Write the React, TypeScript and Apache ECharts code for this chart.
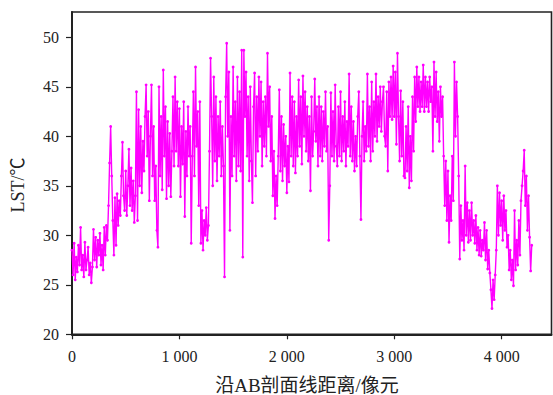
import React, { useEffect, useRef } from "react";
import * as echarts from "echarts";

// LST sampled along the AB profile, one value every DISTANCE_STEP pixels
const DISTANCE_STEP = 10;
const lstValues: number[] = [
  28.5, 26.0, 29.2, 25.5, 27.8, 26.3, 29.0, 27.0, 30.8, 26.5,
  28.0, 25.8, 29.3, 26.5, 27.5, 28.8, 26.0, 27.2, 25.2, 26.8,
  30.6, 27.5, 29.8, 26.8, 29.5, 28.0, 30.2, 27.0, 29.0, 26.5,
  30.8, 28.0, 31.0, 29.5, 33.0, 37.3, 41.0, 36.0, 31.5, 28.0,
  33.8, 29.0, 34.2, 31.0, 33.5, 32.0, 36.0, 39.4, 34.0, 32.5,
  36.5, 32.0, 35.0, 38.7, 33.0, 36.8, 32.5, 35.5, 31.3, 34.0,
  44.5, 31.5, 42.7, 35.0, 41.0, 34.3, 39.5, 36.5, 42.0, 45.2,
  38.0, 42.5, 33.5, 40.0, 45.2, 36.0, 41.0, 33.5, 37.0, 30.5,
  28.8, 45.0, 36.0, 42.0, 34.6, 46.7, 38.0, 43.0, 33.7, 41.5,
  35.0, 40.3, 33.9, 38.5, 44.0, 37.0, 46.0, 38.5, 43.5, 37.0,
  42.8, 33.9, 41.0, 37.2, 43.5, 31.9, 40.5, 36.0, 43.0, 38.0,
  41.0, 29.2, 38.0, 44.5, 36.0, 47.0, 39.0, 42.5, 33.0, 43.5,
  29.2, 32.5, 28.5, 31.5, 30.0, 32.8, 29.5, 31.0, 38.5, 47.9,
  42.0, 35.0, 46.0, 37.5, 44.0, 35.5, 42.0, 38.0, 43.5, 36.0,
  41.0, 37.0, 25.8, 44.0, 49.4, 40.0, 46.5, 30.5, 42.0, 36.0,
  47.0, 38.0, 43.5, 35.5, 46.0, 37.0, 44.5, 36.5, 48.7, 27.8,
  48.7, 42.0, 46.5, 38.0, 44.0, 35.5, 45.0, 37.5, 33.3, 43.0,
  46.4, 36.0, 44.0, 38.5, 46.0, 40.0, 45.5, 37.0, 43.5, 39.0,
  44.0, 38.0, 48.4, 41.0, 45.0, 37.5, 42.0, 34.0, 38.5, 31.7,
  36.0, 33.0, 38.0, 44.7, 36.5, 42.0, 35.5, 41.2, 37.0, 40.0,
  34.3, 39.0, 35.4, 46.4, 38.0, 44.0, 37.0, 43.5, 36.3, 42.0,
  38.0, 45.7, 39.0, 44.0, 37.2, 46.1, 40.0, 44.5, 38.5, 43.0,
  37.5, 42.0, 34.5, 44.0, 38.0, 40.5, 45.8, 39.5, 43.0, 37.0,
  44.0, 38.0, 43.0, 37.5, 42.5, 39.0, 44.5, 38.5, 41.0, 29.5,
  35.0, 44.4, 38.0, 42.5, 37.5, 45.2, 39.0, 37.0, 43.0, 38.0,
  44.5, 37.5, 42.0, 38.5, 43.5, 37.0, 41.5, 39.0, 46.3, 38.0,
  43.0, 37.5, 41.5, 36.5, 40.0, 37.0, 42.0, 44.5, 38.0, 31.6,
  40.0, 43.5, 37.5, 41.0, 38.5, 46.3, 39.0, 43.0, 37.5, 45.5,
  38.5, 43.5, 40.0, 46.3, 39.5, 44.0, 41.0, 45.0, 40.5, 43.5,
  45.0, 40.0, 39.0, 44.5, 36.5, 45.5, 42.0, 46.0, 41.7, 47.1,
  42.0, 46.5, 39.2, 48.4, 42.0, 37.5, 44.6, 38.0, 43.5, 36.0,
  35.8, 41.0, 36.5, 43.0, 34.8, 40.0, 35.5, 44.0, 38.5, 46.0,
  41.5, 47.0, 43.0, 46.0, 42.5, 45.5, 43.0, 47.2, 42.5, 46.0,
  43.0, 45.5, 42.5, 46.0, 43.5, 45.0, 38.5, 47.5, 42.0, 46.5,
  41.5, 44.5, 39.5, 45.0, 42.0, 44.0, 38.0, 33.0, 37.5, 31.5,
  36.5, 29.3, 34.0, 31.5, 38.0, 33.5, 47.5, 40.0, 45.5, 42.0,
  36.0, 27.6, 33.0, 29.5, 31.5, 28.5, 37.0, 30.0, 33.3, 29.3,
  32.5, 29.5, 33.3, 30.0, 31.5, 29.2, 32.0, 28.5, 30.8, 28.0,
  30.5, 27.9, 29.5, 28.5, 31.3, 27.5, 30.5, 26.6, 28.5, 26.2,
  24.5, 22.6, 25.5, 23.5, 26.0, 28.5, 35.0, 30.0, 34.3, 31.0,
  33.5, 29.5, 34.0, 30.5, 32.5, 28.8, 30.0, 26.5, 28.5, 25.5,
  27.5, 24.9, 32.5, 26.5, 29.5, 27.0, 31.5, 28.0, 33.5, 35.0,
  36.5, 38.6, 33.0, 36.0, 30.5, 34.0, 29.8, 26.4, 29.0,
];

const yTickValues = [20, 25, 30, 35, 40, 45, 50];
const xTickValues = [0, 1000, 2000, 3000, 4000];
const xTickLabels = ["0", "1 000", "2 000", "3 000", "4 000"];
const xAxisTitle = "沿AB剖面线距离/像元";
const yAxisTitle = "LST/℃";

const FONT = "'Liberation Serif', 'Times New Roman', 'Noto Sans CJK SC', serif";

export default function App() {
  const ref = useRef<HTMLDivElement>(null);

  useEffect(() => {
    if (!ref.current) return;
    const chart = echarts.init(ref.current, undefined, { renderer: "svg" });
    const seriesData = lstValues.map((v, i) => [i * DISTANCE_STEP, v]);

    chart.setOption({
      animation: false,
      backgroundColor: "#ffffff",
      grid: {
        left: 72,
        top: 12,
        right: 1.5,
        bottom: 60.7,
        show: true,
        borderColor: "#222",
        borderWidth: 1.6,
        containLabel: false,
      },
      xAxis: {
        type: "value",
        min: 0,
        max: 4464,
        interval: 1000,
        axisLine: { show: true, lineStyle: { color: "#222", width: 2 } },
        axisTick: {
          show: true,
          inside: false,
          length: 5,
          lineStyle: { color: "#222", width: 1.2 },
          customValues: xTickValues,
        },
        axisLabel: {
          margin: 14,
          color: "#222",
          fontFamily: FONT,
          fontSize: 16,
          customValues: xTickValues,
          formatter: (v: number) => {
            const idx = xTickValues.indexOf(v);
            return idx >= 0 ? xTickLabels[idx] : "";
          },
        },
        splitLine: { show: false },
      },
      yAxis: {
        type: "value",
        min: 20,
        max: 52.56,
        interval: 5,
        axisLine: { show: true, lineStyle: { color: "#222", width: 2 } },
        axisTick: {
          show: true,
          inside: false,
          length: 6,
          lineStyle: { color: "#222", width: 1.2 },
          customValues: yTickValues,
        },
        axisLabel: {
          margin: 13,
          color: "#222",
          fontFamily: FONT,
          fontSize: 16,
          customValues: yTickValues,
        },
        splitLine: { show: false },
      },
      graphic: [
        {
          type: "text",
          x: 307,
          y: 385,
          style: {
            text: xAxisTitle,
            fill: "#222",
            font: `19px ${FONT}`,
            textAlign: "center",
            textVerticalAlign: "middle",
          },
        },
        {
          type: "text",
          x: 18,
          y: 185,
          rotation: Math.PI / 2,
          style: {
            text: yAxisTitle,
            fill: "#222",
            font: `18px ${FONT}`,
            textAlign: "center",
            textVerticalAlign: "middle",
          },
        },
      ],
      series: [
        {
          type: "line",
          data: seriesData,
          showSymbol: true,
          showAllSymbol: true,
          symbol: "circle",
          symbolSize: 2.8,
          itemStyle: { color: "#ff00ff" },
          lineStyle: { color: "#ff00ff", width: 1.4 },
          emphasis: { disabled: true },
        },
      ],
    });

    return () => {
      chart.dispose();
    };
  }, []);

  return (
    <div
      ref={ref}
      style={{ position: "fixed", left: 0, top: 0, width: 553, height: 395 }}
    />
  );
}
